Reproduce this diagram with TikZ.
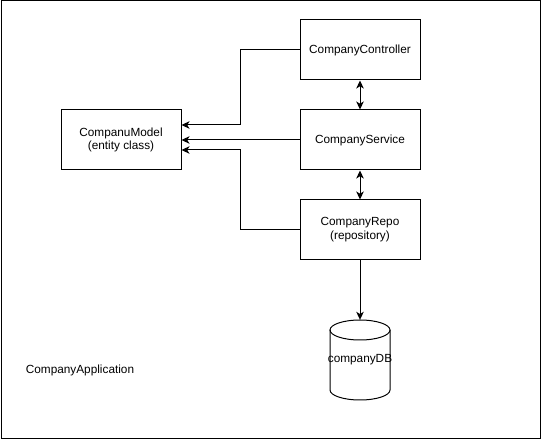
\documentclass[tikz,border=0pt]{standalone}
\usepackage{fontspec}
\setmainfont{Liberation Sans}
\usetikzlibrary{arrows.meta}
\begin{document}
\begin{tikzpicture}[x=1pt,y=-1pt,
  txt/.style={font=\fontsize{11.8}{13.8}\selectfont},
  box/.style={draw,line width=1pt,minimum width=120pt,minimum height=60pt,inner sep=0pt,align=center,txt},
  conn/.style={line width=1pt,-{Stealth[length=8pt,width=7.5pt,inset=2.2pt]}},
  dconn/.style={line width=1pt,{Stealth[length=8pt,width=7.5pt,inset=2.2pt]}-{Stealth[length=8pt,width=7.5pt,inset=2.2pt]}},
  dbshape/.style={minimum width=60pt,minimum height=80pt,inner sep=0pt,txt}]
\useasboundingbox (0,0) rectangle (542,441);
\draw[line width=1pt] (1,1) rectangle (540,439);
\node[box] (ctrl) at (360,50) {CompanyController};
\node[box] (svc) at (360,140) {CompanyService};
\node[box] (repo) at (360,230) {CompanyRepo\\(repository)};
\node[box] (model) at (121,140) {CompanuModel\\(entity class)};
\node[dbshape] (cdb) at (360,360) {companyDB};
\draw[line width=1pt] (360,330) ellipse [x radius=30pt, y radius=10pt];
\draw[line width=1pt] (330,330) -- (330,390) arc[start angle=180,end angle=360,x radius=30pt,y radius=10pt] -- (390,330);
\node[txt] (app) at (80,370) {CompanyApplication};
\coordinate (m1) at (model.east |- 0,125);
\coordinate (m3) at (model.east |- 0,150);
\draw[conn] (ctrl.west) -| (240,125) -- (m1);
\draw[conn] (svc.west) -- (model.east);
\draw[conn] (repo.west) -| (240,150) -- (m3);
\draw[dconn] (ctrl.south) -- (svc.north);
\draw[dconn] (svc.south) -- (repo.north);
\draw[conn] (repo.south) -- (cdb.north);
\end{tikzpicture}
\end{document}
